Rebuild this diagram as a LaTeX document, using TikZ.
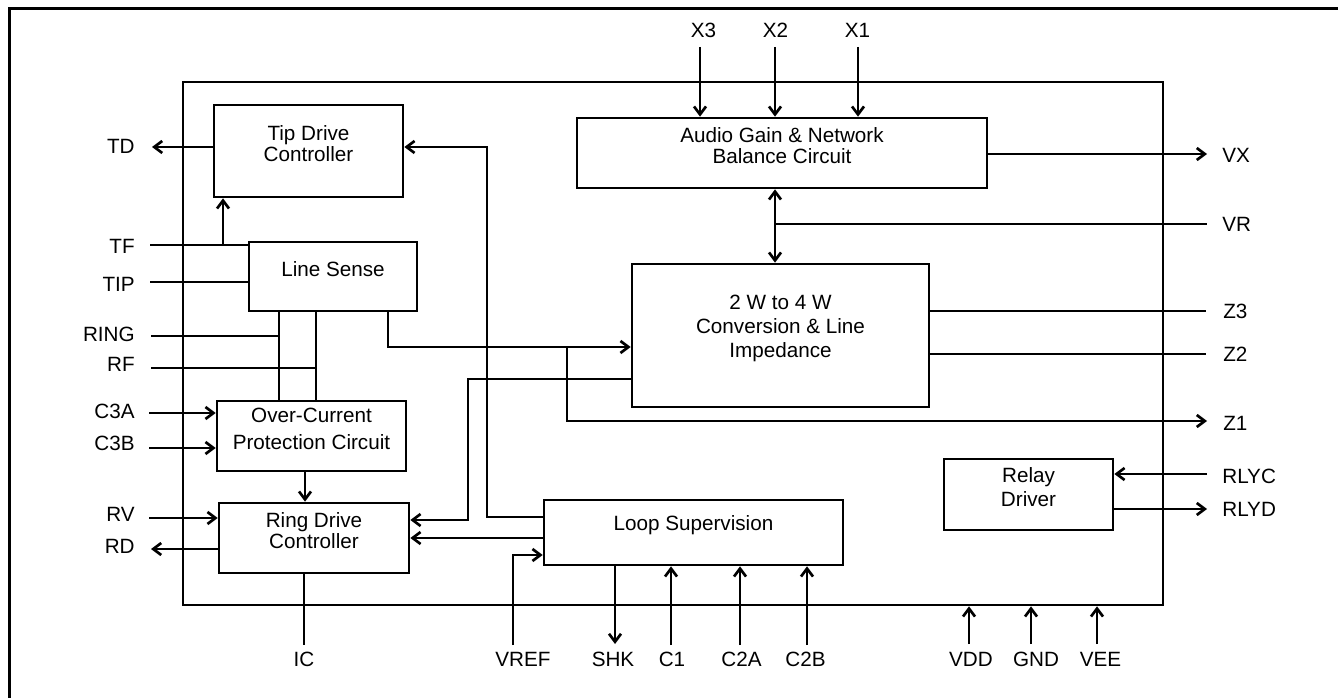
\documentclass[tikz,border=0pt]{standalone}
\usepackage{fontspec}
\setmainfont{Liberation Sans}
\usetikzlibrary{arrows.meta,fit}
\begin{document}
\begin{tikzpicture}[x=0.75pt,y=-0.75pt,
  line width=2pt,
  box/.style={draw, line width=2pt, inner sep=0pt, align=center},
  lbl/.style={inner sep=0pt, font=\fontsize{15.5}{16}\selectfont},
  arr/.style={-{Straight Barb[length=6pt,width=9pt]}},
  darr/.style={{Straight Barb[length=6pt,width=9pt]}-{Straight Barb[length=6pt,width=9pt]}},
]
\useasboundingbox (0,0) rectangle (1338,698);
% outer frame (only top and left edges visible)
\draw[line width=2.3pt] (9.3,698) -- (9.3,8.5) -- (1338,8.5);
% chip outline
\node[draw, line width=2pt, inner sep=0pt, fit={(183,82)(1163,605)}] (chip) {};
% blocks
\node[box, fit={(214,105)(403,197)}, font=\fontsize{15.5}{15.5}\selectfont] (tdc) {Tip Drive\\Controller};
\node[box, fit={(249,242)(417,311)}, font=\fontsize{15.5}{16}\selectfont] (ls) {Line Sense};
\node[box, fit={(217,401)(406,471)}, font=\fontsize{15.5}{20}\selectfont] (oc) {Over-Current\\Protection Circuit};
\node[box, fit={(219,503)(409,573)}, font=\fontsize{15.5}{16}\selectfont] (rdc) {Ring Drive\\Controller};
\node[box, fit={(577,118)(987,188)}, font=\fontsize{15.5}{16.3}\selectfont] (audio) {Audio Gain \& Network\\Balance Circuit};
\node[box, fit={(632,264)(929,407)}, font=\fontsize{15.5}{18}\selectfont] (conv) {2 W to 4 W\\Conversion \& Line\\Impedance};
\node[box, fit={(544,500)(843,565)}, font=\fontsize{15.5}{16}\selectfont] (loop) {Loop Supervision};
\node[box, fit={(944,459)(1113,530)}, font=\fontsize{15.5}{17.5}\selectfont] (relay) {Relay\\Driver};
% pin ends
\coordinate (pTD) at (152,147);
\coordinate (pTF) at (150,245);
\coordinate (pTIP) at (150,282);
\coordinate (pRING) at (151,336);
\coordinate (pRF) at (151,368);
\coordinate (pC3A) at (149,413);
\coordinate (pC3B) at (149,448);
\coordinate (pRV) at (149,518);
\coordinate (pRD) at (151,549);
\coordinate (pIC) at (304,645);
\coordinate (pVREF) at (513,645);
\coordinate (pSHK) at (615,644);
\coordinate (pC1) at (671,645);
\coordinate (pC2A) at (740,645);
\coordinate (pC2B) at (807,645);
\coordinate (pVDD) at (969,644);
\coordinate (pGND) at (1031,644);
\coordinate (pVEE) at (1097,644);
\coordinate (pX3) at (700,47);
\coordinate (pX2) at (775,47);
\coordinate (pX1) at (858,47);
\coordinate (pVX) at (1207,154);
\coordinate (pVR) at (1207,224);
\coordinate (pZ3) at (1206,311);
\coordinate (pZ2) at (1206,354);
\coordinate (pZ1) at (1207,421);
\coordinate (pRLYC) at (1207,474);
\coordinate (pRLYD) at (1207,509);
% labels left
\node[lbl, anchor=east] (lTD) at (136,146) {TD};
\node[lbl, anchor=east] (lTF) at (136,246) {TF};
\node[lbl, anchor=east] (lTIP) at (136,284) {TIP};
\node[lbl, anchor=east] (lRING) at (136,334) {RING};
\node[lbl, anchor=east] (lRF) at (136,364) {RF};
\node[lbl, anchor=east] (lC3A) at (136,411.5) {C3A};
\node[lbl, anchor=east] (lC3B) at (136,443.5) {C3B};
\node[lbl, anchor=east] (lRV) at (136,514) {RV};
\node[lbl, anchor=east] (lRD) at (136,546) {RD};
% labels right
\node[lbl, anchor=west] (lVX) at (1221,155.5) {VX};
\node[lbl, anchor=west] (lVR) at (1221,224) {VR};
\node[lbl, anchor=west] (lZ3) at (1222,311) {Z3};
\node[lbl, anchor=west] (lZ2) at (1222,354) {Z2};
\node[lbl, anchor=west] (lZ1) at (1222,423) {Z1};
\node[lbl, anchor=west] (lRLYC) at (1221,476.5) {RLYC};
\node[lbl, anchor=west] (lRLYD) at (1221,509) {RLYD};
% labels top
\node[lbl] (lX3) at (703.5,30) {X3};
\node[lbl] (lX2) at (775.5,30) {X2};
\node[lbl] (lX1) at (857.5,30) {X1};
% labels bottom
\node[lbl] (lIC) at (304,659.5) {IC};
\node[lbl] (lVREF) at (523,659.5) {VREF};
\node[lbl] (lSHK) at (613,659.5) {SHK};
\node[lbl] (lC1) at (672,659.5) {C1};
\node[lbl] (lC2A) at (741.5,659.5) {C2A};
\node[lbl] (lC2B) at (805.5,659.5) {C2B};
\node[lbl] (lVDD) at (971,659.5) {VDD};
\node[lbl] (lGND) at (1036,659.5) {GND};
\node[lbl] (lVEE) at (1100.5,659.5) {VEE};
% connectors - left side
\draw[arr] (tdc.west |- pTD) -- (pTD);
\coordinate (jTF) at (223,245);
\draw (pTF) -- (ls.west |- pTF);
\draw[arr] (jTF) -- (jTF |- tdc.south);
\draw (pTIP) -- (ls.west |- pTIP);
\coordinate (jRING) at (279,336);
\draw (pRING) -- (jRING);
\draw (ls.south -| jRING) -- (oc.north -| jRING);
\coordinate (jRF) at (316,368);
\draw (pRF) -- (jRF);
\draw (ls.south -| jRF) -- (oc.north -| jRF);
\draw[arr] (pC3A) -- (oc.west |- pC3A);
\draw[arr] (pC3B) -- (oc.west |- pC3B);
\draw[arr] (oc.south -| 305,0) -- (rdc.north -| 305,0);
\draw[arr] (pRV) -- (rdc.west |- pRV);
\draw[arr] (rdc.west |- pRD) -- (pRD);
\draw (rdc.south -| pIC) -- (pIC);
% line sense to conversion, branch to Z1
\coordinate (bLS) at (388,347);
\coordinate (jZ1) at (567,347);
\draw[arr] (ls.south -| bLS) -- (bLS) -- (conv.west |- bLS);
\draw[arr] (jZ1) -- (jZ1 |- pZ1) -- (pZ1);
% conversion to ring drive
\coordinate (bC1) at (468,379);
\coordinate (bC2) at (468,520);
\draw[arr] (conv.west |- bC1) -- (bC1) -- (bC2) -- (rdc.east |- bC2);
% loop supervision to tip drive
\coordinate (bL1) at (487,517);
\coordinate (bL2) at (487,147);
\draw[arr] (loop.west |- bL1) -- (bL1) -- (bL2) -- (tdc.east |- bL2);
\draw[arr] (loop.west |- 0,538) -- (rdc.east |- 0,538);
\coordinate (bV) at (513,555);
\draw[arr] (pVREF) -- (bV) -- (loop.west |- bV);
\draw[arr] (loop.south -| pSHK) -- (pSHK);
\draw[arr] (pC1) -- (loop.south -| pC1);
\draw[arr] (pC2A) -- (loop.south -| pC2A);
\draw[arr] (pC2B) -- (loop.south -| pC2B);
% top
\draw[arr] (pX3) -- (audio.north -| pX3);
\draw[arr] (pX2) -- (audio.north -| pX2);
\draw[arr] (pX1) -- (audio.north -| pX1);
\draw[darr] (audio.south -| pX2) -- (conv.north -| pX2);
\coordinate (jVR) at (775,224);
\draw (jVR) -- (pVR);
\draw[arr] (audio.east |- pVX) -- (pVX);
\draw (conv.east |- pZ3) -- (pZ3);
\draw (conv.east |- pZ2) -- (pZ2);
\draw[arr] (pRLYC) -- (relay.east |- pRLYC);
\draw[arr] (relay.east |- pRLYD) -- (pRLYD);
% power
\draw[arr] (pVDD) -- (chip.south -| pVDD);
\draw[arr] (pGND) -- (chip.south -| pGND);
\draw[arr] (pVEE) -- (chip.south -| pVEE);
\end{tikzpicture}
\end{document}
